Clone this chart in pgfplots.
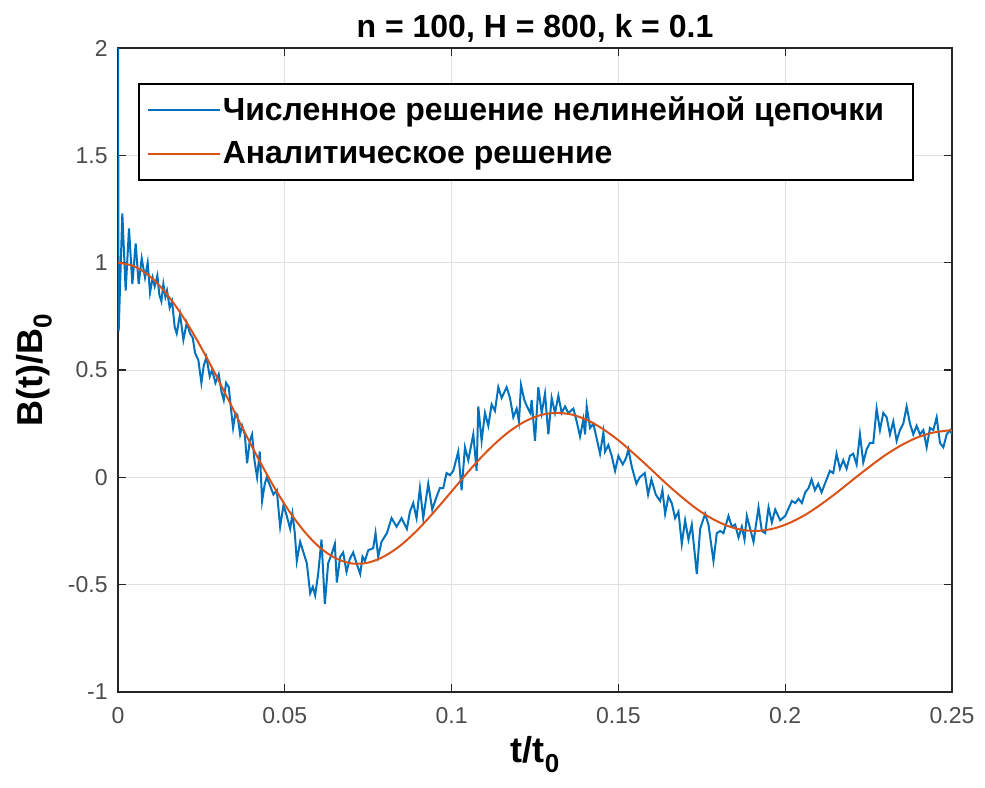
\documentclass[border=0pt]{standalone}
\usepackage{pgfplots}
\pgfplotsset{compat=1.18}
\usepackage{fontspec}
\setmainfont{Liberation Sans}
\definecolor{mblue}{rgb}{0,0.447,0.741}
\definecolor{morange}{rgb}{0.850,0.325,0.098}
\definecolor{axgray}{rgb}{0.15,0.15,0.15}
\newcommand{\subz}{\raisebox{-0.5ex}{\fontsize{13}{13}\selectfont 0}}
\begin{document}
\begin{tikzpicture}
\begin{axis}[
  scale only axis, width=417pt, height=322pt,
  xmin=0, xmax=0.25, ymin=-1, ymax=2,
  xtick={0,0.05,0.1,0.15,0.2,0.25},
  xticklabels={0,0.05,0.1,0.15,0.2,0.25},
  ytick={-1,-0.5,0,0.5,1,1.5,2},
  yticklabels={-1,-0.5,0,0.5,1,1.5,2},
  scaled x ticks=false, scaled y ticks=false,
  tick align=inside, major tick length=4pt,
  grid=major, major grid style={color=black!12, line width=0.5pt},
  axis line style={color=axgray, line width=0.6pt},
  tick style={color=axgray, line width=0.6pt},
  ticklabel style={font=\fontsize{11.5}{12}\selectfont, text=black!70, inner sep=0pt},
  xticklabel style={yshift=-7.5pt},
  yticklabel style={xshift=-5pt},
  title={n = 100, H = 800, k = 0.1},
  title style={font=\fontsize{16}{19}\selectfont\bfseries, at={(axis description cs:0.5,0.997)}, anchor=base, inner sep=0pt},
  xlabel={t/t\subz},
  ylabel={B(t)/B\subz},
  xlabel style={font=\fontsize{18}{20}\selectfont\bfseries, at={(axis description cs:0.5,-0.1102)}, anchor=base, inner sep=0pt},
  ylabel style={font=\fontsize{18}{20}\selectfont\bfseries, at={(axis description cs:-0.0911,0.5)}, anchor=base, inner sep=0pt},
  legend style={at={(axis description cs:0.024,0.9453)}, anchor=north west, draw=black, line width=0.75pt, fill=white,
    font=\fontsize{16}{19}\selectfont\bfseries, inner xsep=4pt, inner ysep=4.5pt, row sep=5pt,
    nodes={inner xsep=1pt, inner ysep=2pt}},
  legend cell align=left,
  legend image code/.code={\draw[#1,line width=1pt] (0pt,0pt) -- (36pt,0pt);},
]
% численное решение
\addplot[color=mblue, line width=1pt] coordinates {
(0,2.00)(0.0002,0.68)(0.0013,1.23)(0.0023,0.87)(0.0033,1.16)(0.0043,0.90)(0.0053,1.09)(0.0062,0.90)
(0.0071,1.02)(0.0081,0.93)(0.0089,1.00)(0.0096,0.86)(0.0104,0.93)(0.0110,0.89)(0.0118,0.94)(0.0124,0.85)
(0.0130,0.82)(0.0136,0.90)(0.0142,0.84)(0.0147,0.87)(0.0155,0.79)(0.0162,0.82)(0.0170,0.70)(0.0176,0.67)
(0.0186,0.76)(0.0196,0.64)(0.0206,0.72)(0.0216,0.67)(0.0224,0.65)(0.0231,0.58)(0.0241,0.545)(0.0250,0.44)
(0.0257,0.52)(0.0265,0.56)(0.0275,0.47)(0.0282,0.50)(0.0292,0.44)(0.0302,0.48)(0.0310,0.40)(0.0317,0.36)
(0.0324,0.44)(0.0332,0.42)(0.0340,0.30)(0.0345,0.23)(0.0352,0.30)(0.0358,0.29)(0.0366,0.20)(0.0372,0.24)
(0.0380,0.20)(0.0387,0.065)(0.0395,0.17)(0.0402,0.20)(0.0409,0.08)(0.0417,0.00)(0.0425,0.12)(0.0432,-0.11)
(0.0440,-0.03)(0.0446,0.00)(0.0456,-0.04)(0.0466,-0.08)(0.0476,-0.06)(0.0486,-0.23)(0.0496,-0.13)(0.0506,-0.18)
(0.0516,-0.24)(0.0523,-0.17)(0.0530,-0.26)(0.0536,-0.39)(0.0546,-0.30)(0.0556,-0.35)(0.0566,-0.40)(0.0576,-0.54)
(0.0584,-0.51)(0.0591,-0.55)(0.0600,-0.45)(0.0610,-0.29)(0.0620,-0.59)(0.0630,-0.40)(0.0640,-0.36)(0.0650,-0.31)
(0.0656,-0.49)(0.0666,-0.37)(0.0675,-0.35)(0.0685,-0.44)(0.0695,-0.38)(0.0705,-0.35)(0.0715,-0.40)(0.0726,-0.45)
(0.0733,-0.37)(0.0740,-0.39)(0.0750,-0.34)(0.0765,-0.33)(0.0772,-0.26)(0.0780,-0.37)(0.0790,-0.30)(0.0806,-0.26)
(0.0812,-0.23)(0.0820,-0.19)(0.0835,-0.23)(0.0850,-0.19)(0.0866,-0.24)(0.0875,-0.16)(0.0885,-0.12)(0.0895,-0.19)
(0.0905,-0.05)(0.0915,-0.19)(0.0930,-0.03)(0.0942,-0.15)(0.0955,-0.09)(0.0965,-0.05)(0.0975,-0.05)(0.0985,0.02)
(0.0995,0.01)(0.1005,0.03)(0.1020,0.12)(0.1030,-0.06)(0.1040,0.14)(0.1050,0.08)(0.1065,0.20)(0.1075,0.03)
(0.1080,0.33)(0.1090,0.17)(0.1100,0.30)(0.1110,0.24)(0.1120,0.34)(0.1130,0.31)(0.1140,0.42)(0.1150,0.37)
(0.1165,0.42)(0.1175,0.37)(0.1185,0.28)(0.1195,0.32)(0.1202,0.26)(0.1208,0.43)(0.1218,0.36)(0.1226,0.33)
(0.1236,0.30)(0.1240,0.36)(0.1250,0.17)(0.1260,0.42)(0.1270,0.30)(0.1280,0.39)(0.1290,0.20)(0.1300,0.37)
(0.1310,0.30)(0.1320,0.38)(0.1330,0.30)(0.1340,0.33)(0.1350,0.30)(0.1365,0.32)(0.1375,0.26)(0.1385,0.19)
(0.1395,0.27)(0.1400,0.20)(0.1405,0.33)(0.1415,0.23)(0.1425,0.25)(0.1435,0.18)(0.1445,0.11)(0.1455,0.21)
(0.1460,0.12)(0.1470,0.15)(0.1480,0.10)(0.1490,0.03)(0.1500,0.10)(0.1513,0.06)(0.1523,0.09)(0.1530,0.13)
(0.1540,0.05)(0.1554,-0.03)(0.1564,0.00)(0.1579,0.02)(0.1589,-0.08)(0.1599,-0.01)(0.1612,-0.08)(0.1625,-0.11)
(0.1632,-0.06)(0.1640,-0.17)(0.1650,-0.09)(0.1660,-0.12)(0.1670,-0.19)(0.1680,-0.16)(0.1690,-0.31)(0.1700,-0.20)
(0.1710,-0.29)(0.1720,-0.22)(0.1735,-0.45)(0.1745,-0.24)(0.1760,-0.17)(0.1770,-0.22)(0.1785,-0.39)(0.1795,-0.26)
(0.1805,-0.25)(0.1815,-0.26)(0.1830,-0.18)(0.1840,-0.23)(0.1850,-0.22)(0.1860,-0.28)(0.1870,-0.23)(0.1878,-0.29)
(0.1885,-0.18)(0.1905,-0.30)(0.1920,-0.14)(0.1930,-0.25)(0.1940,-0.26)(0.1950,-0.14)(0.1960,-0.21)(0.1970,-0.15)
(0.1985,-0.20)(0.2000,-0.18)(0.2020,-0.11)(0.2030,-0.12)(0.2040,-0.10)(0.2050,-0.12)(0.2060,-0.07)(0.2070,-0.05)
(0.2079,-0.01)(0.2089,-0.06)(0.2099,-0.03)(0.2109,-0.07)(0.2119,-0.03)(0.2134,0.03)(0.2144,0.02)(0.2154,0.11)
(0.2164,0.04)(0.2174,0.08)(0.2184,0.04)(0.2194,0.10)(0.2204,0.11)(0.2214,0.06)(0.2224,0.20)(0.2234,0.07)
(0.2244,0.13)(0.2254,0.16)(0.2264,0.16)(0.2274,0.32)(0.2284,0.22)(0.2294,0.30)(0.2304,0.28)(0.2314,0.20)
(0.2324,0.26)(0.2334,0.17)(0.2344,0.22)(0.2354,0.25)(0.2364,0.33)(0.2374,0.25)(0.2384,0.20)(0.2394,0.24)
(0.2404,0.20)(0.2414,0.22)(0.2424,0.14)(0.2434,0.23)(0.2444,0.22)(0.2454,0.28)(0.2464,0.16)(0.2474,0.14)
(0.2484,0.20)(0.2494,0.22)(0.2500,0.20)
};
\addlegendentry{Численное решение нелинейной цепочки\rule{9.5pt}{0pt}}
% аналитическое решение
\addplot[color=morange, line width=1pt, smooth] coordinates {
(0,1)(0.00469,0.9844)(0.00938,0.9385)(0.01407,0.8642)(0.01876,0.7652)(0.02345,0.6459)(0.02814,0.5118)
(0.03284,0.3690)(0.03752,0.2239)(0.04221,0.0827)(0.04690,-0.0484)(0.05159,-0.1641)(0.05629,-0.2601)
(0.06098,-0.3333)(0.06567,-0.3801)(0.07036,-0.4018)(0.07505,-0.3971)(0.07974,-0.3686)(0.08443,-0.3205)
(0.08912,-0.2553)(0.09381,-0.1776)(0.09850,-0.0931)(0.10319,-0.0068)(0.10788,0.0767)(0.11257,0.1506)
(0.11726,0.2133)(0.12195,0.2601)(0.12664,0.2898)(0.13133,0.3001)(0.13602,0.2924)(0.14071,0.2663)
(0.14540,0.2247)(0.15009,0.1717)(0.15478,0.1085)(0.15947,0.0419)(0.16417,-0.0267)(0.16886,-0.0903)
(0.17355,-0.1479)(0.17824,-0.1939)(0.18293,-0.2276)(0.18762,-0.2459)(0.19231,-0.2490)(0.19700,-0.2366)
(0.20169,-0.2097)(0.20638,-0.1712)(0.21107,-0.1222)(0.21576,-0.0677)(0.22045,-0.0091)(0.22514,0.0477)
(0.22983,0.1015)(0.23452,0.1469)(0.23921,0.1833)(0.24390,0.2069)(0.24859,0.2179)(0.25,0.2185)
};
\addlegendentry{Аналитическое решение}
\end{axis}
\path ([shift={(-59pt,-47.5pt)}]current axis.south west) rectangle ([shift={(16.5pt,24pt)}]current axis.north east);
\end{tikzpicture}
\end{document}
